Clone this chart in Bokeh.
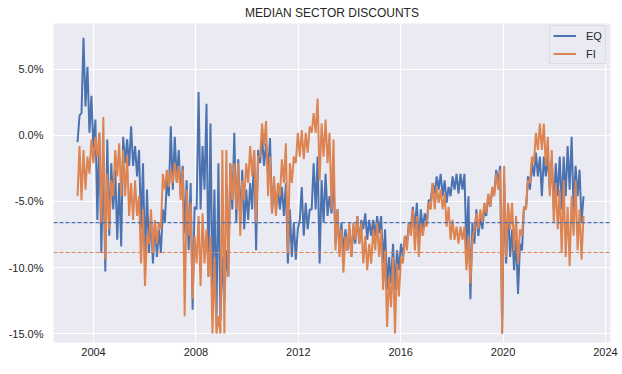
import numpy as np
import pandas as pd
from bokeh.plotting import figure
from bokeh.models import (Range1d, FixedTicker, DatetimeTickFormatter, PrintfTickFormatter,
                          Span, Legend, LegendItem)
from bokeh.embed import file_html
from bokeh.resources import INLINE

# ---- data (percent): per ~8-week window, low then high ----
START = "2003-05-18"
END = "2023-02-22"

EQ_LO = [-0.5, 1.7, 2.2, 0.2, -1.0, -6.4, -8.9, -10.3, -7.6, -5.6, -7.9, -8.4, -2.1, -2.3, -2.3, -3.1, -7.1, -9.7, -8.9, -9.7, -9.2,
         -8.9, -6.6, -4.6, -4.1, -3.4, -4.6, -7.4, -8.7, -13.2, -5.6, -5.6, -4.1, -10.7, -11.7, -14.2, -14.0, -12.5, -10.7, -5.6, -6.6, -6.6,
         -7.1, -6.4, -5.6, -8.7, -2.1, -2.3, -2.9, -5.9, -5.6, -5.6, -6.1, -9.7, -9.2, -9.4, -6.4, -7.6, -7.1, -5.6, -5.6, -9.7, -6.6, -6.1,
         -5.9, -8.2, -8.9, -8.9, -8.7, -9.2, -8.2, -8.2, -7.1, -7.9, -7.6, -7.6, -7.4, -9.7, -11.7, -11.2, -11.7, -10.2, -9.2, -8.2, -6.9,
         -7.1, -8.2, -7.1, -6.6, -4.9, -4.4, -4.1, -4.6, -5.1, -4.6, -4.1, -4.4, -4.1, -8.7, -12.4, -8.2, -7.6, -7.1, -6.1, -5.4, -4.4, -3.6,
         -15.0, -9.7, -9.2, -10.2, -12.0, -8.7, -5.6, -4.1, -3.1, -3.1, -4.6, -3.1, -4.1, -5.6, -4.6, -5.6, -4.6, -4.1, -5.6, -4.6, -6.6]
EQ_HI = [1.5, 7.4, 5.2, 3.0, 1.2, 0.2, -1.6, -0.3, -2.1, -2.6, -3.6, -0.1, -0.3, 0.7, -0.8, -1.1, -2.1, -4.1, -6.1, -6.6, -7.1,
         -5.6, -3.4, 0.7, -0.1, -1.1, -2.3, -3.4, -3.6, -5.4, 3.3, -0.8, 2.4, 0.9, -4.1, -2.1, -9.2, -8.7, -2.1, 0.2, -1.8, -2.6,
         -4.1, -3.6, -1.1, -1.1, -0.1, -0.6, -0.2, -3.6, -4.1, -3.9, -3.6, -5.6, -6.6, -7.1, -3.9, -5.1, -5.6, -2.1, -1.6, -3.4, -2.9, -4.6,
         -3.1, -5.6, -6.6, -7.1, -7.1, -7.1, -6.1, -6.4, -5.9, -6.4, -6.4, -6.1, -6.1, -7.1, -9.2, -8.2, -8.7, -8.2, -7.6, -6.6, -5.4,
         -5.1, -5.6, -5.9, -4.9, -3.6, -3.1, -2.9, -3.4, -3.9, -3.1, -2.9, -2.9, -2.9, -4.6, -6.6, -5.6, -6.1, -5.6, -4.6, -4.1, -2.6, -2.3,
         -3.6, -5.6, -7.1, -7.9, -8.2, -5.4, -3.1, -2.1, -1.3, -1.6, -1.6, -1.6, -1.8, -2.1, -1.6, -1.6, -0.8, -0.1, -2.3, -2.6, -4.6]

FI_LO = [-4.6, -4.9, -4.1, -2.9, -2.1, -1.6, -6.6, -9.4, -7.1, -4.6, -3.1, -4.6, -4.6, -6.1, -6.4, -6.1, -9.7, -11.4, -8.2, -8.9, -8.2,
         -7.1, -4.1, -3.9, -3.6, -3.6, -4.9, -13.7, -7.6, -12.4, -9.7, -11.4, -9.7, -10.7, -15.0, -15.0, -15.0, -15.0, -10.7, -4.9, -5.6, -7.6,
         -4.9, -3.6, -3.1, -6.6, -1.6, -0.8, -4.6, -5.9, -6.1, -4.6, -3.6, -8.9, -3.6, -2.1, -1.6, -1.8, -1.3, 0.2, 0.2, -3.4, -1.6, -2.1,
         -5.6, -8.7, -9.2, -10.4, -8.7, -9.2, -7.9, -8.2, -9.7, -10.2, -9.7, -8.7, -9.2, -11.7, -14.5, -13.0, -15.0, -12.2, -9.7, -8.7, -7.6,
         -8.7, -9.2, -7.6, -6.9, -5.6, -5.6, -5.1, -5.6, -6.9, -7.9, -7.9, -8.2, -7.9, -10.2, -11.2, -7.1, -7.1, -6.6, -5.9, -5.4, -4.6, -4.1,
         -15.0, -9.2, -7.1, -8.7, -9.7, -7.6, -5.6, -3.6, -2.1, -1.1, -1.1, -2.3, -4.6, -6.6, -7.1, -8.9, -9.2, -9.9, -7.6, -8.7, -9.4]
FI_HI = [-0.8, -1.1, -1.6, -0.3, -0.1, 0.2, 1.4, -2.9, -3.4, -1.1, -0.6, -1.1, -1.6, -3.6, -3.4, -4.6, -5.6, -7.6, -5.6, -6.4, -6.6,
         -2.9, -2.6, -2.6, -2.1, -2.3, -2.6, -4.1, -5.1, -7.6, -6.1, -5.9, -7.1, -7.6, -9.2, -13.7, -1.1, -1.1, -2.1, -2.1, -2.1, -3.4,
         -2.1, -0.8, -1.1, -1.6, 0.9, 1.1, -1.6, -3.1, -3.6, -1.8, -0.6, -2.1, -1.6, 0.2, 0.4, 0.2, 0.7, 1.7, 2.8, 0.9, 1.2, 0.2,
         -0.3, -5.6, -7.1, -7.6, -6.6, -6.6, -6.1, -6.6, -7.6, -8.2, -7.1, -6.6, -7.1, -8.7, -10.7, -9.2, -9.7, -9.2, -7.6, -6.6, -5.6,
         -6.1, -6.6, -6.6, -5.1, -3.6, -3.9, -4.1, -4.4, -5.4, -6.4, -6.9, -6.9, -6.9, -7.6, -7.9, -5.9, -5.6, -5.1, -4.4, -3.9, -2.9, -2.6,
         -2.3, -5.1, -5.1, -6.1, -7.1, -5.4, -3.4, -1.6, 0.2, 0.9, 0.9, -0.1, -1.1, -3.6, -4.1, -3.4, -5.4, -4.6, -3.4, -5.6, -6.1]

EQ_AVG = -6.6
FI_AVG = -8.86

X_TICK_YEARS = [2004, 2008, 2012, 2016, 2020, 2024]
Y_TICKS = [-15, -10, -5, 0, 5]
TITLE = "MEDIAN SECTOR DISCOUNTS"

# ---- build series ----
n = len(EQ_LO)
dates = pd.date_range(START, END, periods=2 * n)
eq = np.column_stack([EQ_LO, EQ_HI]).ravel()
fi = np.column_stack([FI_LO, FI_HI]).ravel()

BLUE = "#4c72b0"
ORANGE = "#dd8452"
TXT = "#262626"
FONT = "Liberation Sans"

p = figure(frame_width=557, frame_height=319, x_axis_type="datetime", output_backend="svg",
           toolbar_location=None,
           x_range=Range1d(pd.Timestamp("2002-06-09"), pd.Timestamp("2024-03-13")),
           y_range=Range1d(-15.68, 8.48),
           min_border_left=53, min_border_right=12, min_border_top=22, min_border_bottom=33)

p.title.text = TITLE
p.title.align = "center"
p.title.text_font = FONT
p.title.text_font_size = "12px"
p.title.text_font_style = "normal"
p.title.text_color = TXT
p.title.standoff = 7

p.background_fill_color = "#EAEAF2"
p.border_fill_color = "white"
p.outline_line_color = None

r_eq = p.line(dates, eq, line_color=BLUE, line_width=2.0)
r_fi = p.line(dates, fi, line_color=ORANGE, line_width=2.0)

p.add_layout(Span(location=EQ_AVG, dimension="width", line_color=BLUE, line_width=1.1, line_dash="4 2"))
p.add_layout(Span(location=FI_AVG, dimension="width", line_color=ORANGE, line_width=1.1, line_dash="4 2"))

tick_ms = [pd.Timestamp(f"{y}-01-01").value // 10**6 for y in X_TICK_YEARS]
p.xaxis.ticker = FixedTicker(ticks=tick_ms)
p.xaxis.formatter = DatetimeTickFormatter(years="%Y", months="%Y", days="%Y", hours="%Y",
                                          minutes="%Y", seconds="%Y", milliseconds="%Y",
                                          microseconds="%Y", hourmin="%Y", minsec="%Y")
p.yaxis.ticker = FixedTicker(ticks=Y_TICKS)
p.yaxis.formatter = PrintfTickFormatter(format="%.1f%%")

for ax in (p.xaxis, p.yaxis):
    ax.axis_line_color = None
    ax.major_tick_line_color = None
    ax.minor_tick_line_color = None
    ax.major_tick_out = 0
    ax.major_tick_in = 0
    ax.major_label_text_font = FONT
    ax.major_label_text_font_size = "11px"
    ax.major_label_text_color = TXT
p.xaxis.major_label_standoff = 5
p.yaxis.major_label_standoff = 10

p.xgrid.grid_line_color = "white"
p.ygrid.grid_line_color = "white"
p.xgrid.grid_line_width = 1.2
p.ygrid.grid_line_width = 1.2

legend = Legend(items=[LegendItem(label="EQ", renderers=[r_eq]),
                       LegendItem(label="FI", renderers=[r_fi])],
                location=(496, 278), margin=0, padding=3, spacing=5,
                glyph_width=23, glyph_height=13, label_height=13, label_width=14,
                label_standoff=10,
                label_text_font=FONT, label_text_font_size="11px", label_text_color=TXT,
                background_fill_color="#EAEAF2", background_fill_alpha=0.8,
                border_line_color="#cccccc", border_line_width=1)
p.add_layout(legend)

open("out.html", "w").write(file_html(p, INLINE))
